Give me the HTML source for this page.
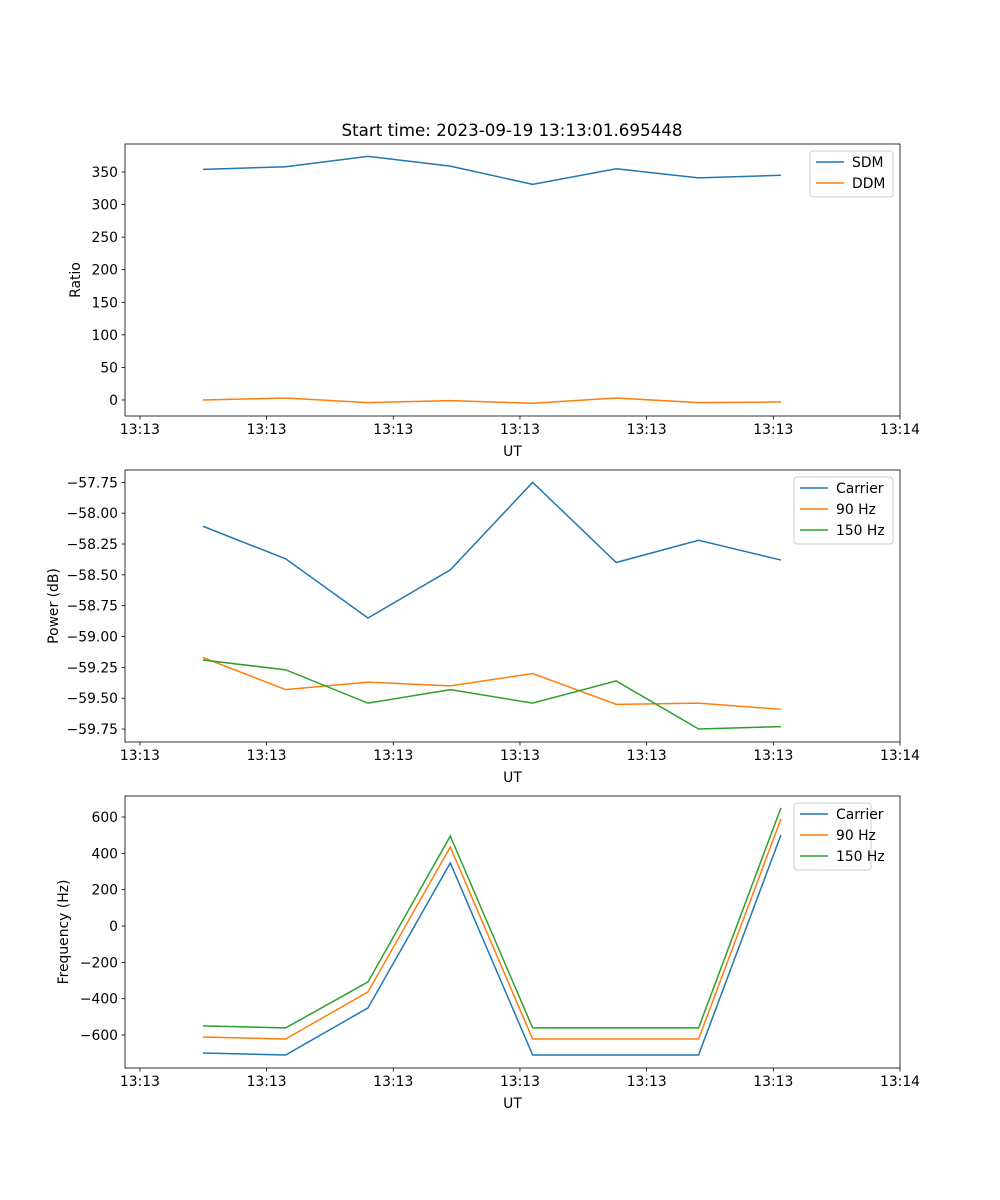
<!DOCTYPE html>
<html><head><meta charset="utf-8"><style>
body{margin:0;background:#fff}
svg{display:block;font-family:"DejaVu Sans","Liberation Sans",sans-serif}
</style></head><body>
<svg id="fig" width="1000" height="1200" viewBox="0 0 1000 1200">
<rect width="1000" height="1200" fill="#fff"/>
<text x="512" y="136" font-size="16.7" text-anchor="middle">Start time: 2023-09-19 13:13:01.695448</text>
</svg>
<script>
const times = [4.97, 11.5, 18.0, 24.5, 31.0, 37.6, 44.1, 50.6];
const xTickVals = [0, 10, 20, 30, 40, 50, 60];
const xTickLabels = ["13:13","13:13","13:13","13:13","13:13","13:13","13:14"];
const sdm = [354, 358, 374, 359, 331, 355, 341, 345];
const ddm = [0, 3, -4, -1, -5, 3, -4, -3];
const pwrCarrier = [-58.106, -58.37, -58.85, -58.46, -57.75, -58.40, -58.22, -58.38];
const pwr90 = [-59.17, -59.43, -59.37, -59.40, -59.30, -59.55, -59.54, -59.59];
const pwr150 = [-59.19, -59.27, -59.54, -59.43, -59.54, -59.36, -59.75, -59.73];
const frqCarrier = [-699, -710, -451, 347, -710, -710, -710, 501];
const frq90 = [-611, -622, -363, 435, -622, -622, -622, 589];
const frq150 = [-550, -561, -308, 495, -561, -561, -561, 650];
const yTicks1 = [0, 50, 100, 150, 200, 250, 300, 350];
const yTicks2 = [-59.75, -59.5, -59.25, -59.0, -58.75, -58.5, -58.25, -58.0, -57.75];
const yTicks3 = [-600, -400, -200, 0, 200, 400, 600];

const NS = "http://www.w3.org/2000/svg";
const svg = document.getElementById("fig");
const C = ["#1f77b4", "#ff7f0e", "#2ca02c"];
function el(tag, attrs, parent) {
  const e = document.createElementNS(NS, tag);
  for (const k in attrs) e.setAttribute(k, attrs[k]);
  (parent || svg).appendChild(e);
  return e;
}
function panel(id, top, ylim, yTicks, yFmt, ylabel, series, names, legW, legX) {
  const L = 125, R = 900, T = top, B = top + 272;
  const g = el("g", {});
  
  
  const xs = v => L + (v - (-1.18)) / (60 - (-1.18)) * (R - L);
  const ys = v => B - (v - ylim[0]) / (ylim[1] - ylim[0]) * (B - T);
  series.forEach((s, i) => {
    const p = el("polyline", {points: s.map((v, j) => xs(times[j]) + "," + ys(v)).join(" "), fill: "none", stroke: C[i], "stroke-width": 1.5}, g);
    
    
  });
  const fr = el("rect", {x: L, y: T, width: R - L, height: B - T, fill: "none", stroke: "#000", "stroke-width": 0.8}, g);
  
  
  xTickVals.forEach((v, i) => {
    const x = xs(v);
    el("line", {x1: x, x2: x, y1: B, y2: B + 3.5, stroke: "#000", "stroke-width": 0.8}, g);
    const t = el("text", {x: x, y: B + 18, "font-size": 13.9, "text-anchor": "middle"}, g);
    t.textContent = xTickLabels[i];
    
    
  });
  const xl = el("text", {x: (L + R) / 2, y: B + 40, "font-size": 13.9, "text-anchor": "middle"}, g);
  xl.textContent = "UT";
  
  
  yTicks.forEach(v => {
    const y = ys(v);
    el("line", {x1: L, x2: L - 3.5, y1: y, y2: y, stroke: "#000", "stroke-width": 0.8}, g);
    const t = el("text", {x: L - 7, y: y + 5, "font-size": 13.9, "text-anchor": "end"}, g);
    t.textContent = yFmt(v);
    
    
  });
  const lx = id === "power" ? 58 : (id === "ratio" ? 80 : 68);
  const yl = el("text", {x: lx, y: (T + B) / 2, "font-size": 13.9, "text-anchor": "middle", transform: `rotate(-90 ${lx} ${(T + B) / 2})`}, g);
  yl.textContent = ylabel;
  
  
  const lg = el("g", {}, g);
  
  
  el("rect", {x: legX, y: T + 7, width: legW, height: 4 + names.length * 21, rx: 3, fill: "#fff", "fill-opacity": 0.8, stroke: "#ccc"}, lg);
  names.forEach((n, i) => {
    const y = T + 18 + i * 21;
    el("line", {x1: legX + 6, x2: legX + 34, y1: y, y2: y, stroke: C[i], "stroke-width": 1.5}, lg);
    const t = el("text", {x: legX + 42, y: y + 5, "font-size": 13.9}, lg);
    t.textContent = n;
    
    
  });
}
const m = v => String(v).replace("-", "\u2212");
panel("ratio", 144, [-24.6, 393], yTicks1, v => m(v), "Ratio", [sdm, ddm], ["SDM", "DDM"], 83, 810);
panel("power", 470, [-59.855, -57.65], yTicks2, v => m(v.toFixed(2)), "Power (dB)", [pwrCarrier, pwr90, pwr150], ["Carrier", "90 Hz", "150 Hz"], 99, 794);
panel("frequency", 796, [-781.6, 715.6], yTicks3, v => m(v), "Frequency (Hz)", [frqCarrier, frq90, frq150], ["Carrier", "90 Hz", "150 Hz"], 77, 794);
</script>
</body></html>
